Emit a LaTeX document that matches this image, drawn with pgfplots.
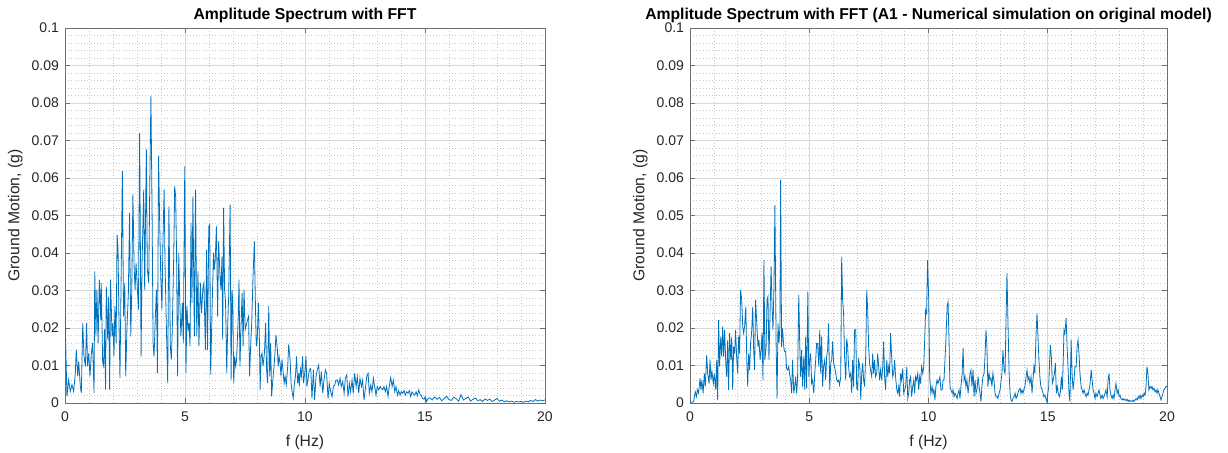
\documentclass[border=0pt]{standalone}
\usepackage{fontspec}
\setmainfont{Liberation Sans}
\usepackage{pgfplots}
\pgfplotsset{compat=1.18}
\definecolor{mblue}{HTML}{0072BD}
\definecolor{axgray}{HTML}{6E6E6E}
\definecolor{txtgray}{HTML}{262626}
\pgfplotsset{mystyle/.style={
  scale only axis, height=281.25pt,
  xmin=0, xmax=20, ymin=0, ymax=0.1,
  xtick={0,5,10,15,20}, xticklabels={0,5,10,15,20},
  ytick={0,0.01,0.02,0.03,0.04,0.05,0.06,0.07,0.08,0.09,0.1},
  yticklabels={0,0.01,0.02,0.03,0.04,0.05,0.06,0.07,0.08,0.09,0.1},
  minor xtick={1,2,3,4,6,7,8,9,11,12,13,14,16,17,18,19},
  minor ytick={0.002,0.004,0.006,0.008,0.012,0.014,0.016,0.018,0.022,0.024,0.026,0.028,0.032,0.034,0.036,0.038,0.042,0.044,0.046,0.048,0.052,0.054,0.056,0.058,0.062,0.064,0.066,0.068,0.072,0.074,0.076,0.078,0.082,0.084,0.086,0.088,0.092,0.094,0.096,0.098},
  grid=both,
  major grid style={draw=black!15, line width=0.5pt},
  minor grid style={draw=black!22, dotted, line width=0.45pt},
  minor tick length=0pt, major tick length=3.6pt, tick align=inside,
  axis line style={draw=axgray, line width=0.5pt},
  tick style={draw=axgray, line width=0.5pt},
  ticklabel style={font=\fontsize{10.5}{12}\selectfont, text=txtgray},
  xticklabel style={yshift=-3pt},
  yticklabel style={xshift=-1pt},
  label style={font=\fontsize{11.8}{14}\selectfont, text=txtgray},
  xlabel style={yshift=-3pt},
  every axis title shift=0pt,
  title style={font=\fontsize{11.8}{14}\selectfont\bfseries, text=black, at={(0.5,1)}, anchor=base, yshift=6pt},
  xlabel={f (Hz)}, ylabel={Ground Motion, (g)},
}}
\begin{document}
\begin{tikzpicture}
\useasboundingbox (0,0) rectangle (921pt,339.75pt);
\begin{axis}[mystyle, width=360pt, at={(48.75pt,37.5pt)}, anchor=south west,
  title={Amplitude Spectrum with FFT}]
\addplot[mblue, line width=0.6pt, no markers] table {
0.00 0.0240
0.08 0.0018
0.15 0.0062
0.22 0.0031
0.29 0.0049
0.36 0.0031
0.43 0.0080
0.47 0.0142
0.53 0.0071
0.57 0.0111
0.64 0.0044
0.68 0.0027
0.74 0.0213
0.79 0.0124
0.85 0.0098
0.90 0.0213
0.94 0.0098
0.99 0.0133
1.04 0.0071
1.10 0.0133
1.15 0.0160
1.21 0.0027
1.24 0.0351
1.29 0.0178
1.33 0.0302
1.38 0.0160
1.43 0.0329
1.49 0.0222
1.51 0.0320
1.57 0.0107
1.61 0.0098
1.65 0.0196
1.69 0.0036
1.72 0.0311
1.78 0.0169
1.82 0.0284
1.86 0.0036
1.90 0.0329
1.96 0.0178
2.00 0.0213
2.04 0.0124
2.08 0.0258
2.13 0.0160
2.17 0.0449
2.21 0.0409
2.25 0.0213
2.29 0.0067
2.33 0.0284
2.39 0.0618
2.44 0.0231
2.49 0.0320
2.53 0.0071
2.58 0.0196
2.64 0.0293
2.69 0.0507
2.74 0.0178
2.78 0.0293
2.83 0.0556
2.88 0.0364
2.92 0.0302
2.96 0.0373
3.01 0.0311
3.06 0.0249
3.11 0.0720
3.17 0.0124
3.21 0.0373
3.28 0.0569
3.32 0.0302
3.39 0.0676
3.43 0.0356
3.49 0.0320
3.53 0.0569
3.58 0.0818
3.63 0.0498
3.67 0.0160
3.71 0.0124
3.76 0.0222
3.81 0.0302
3.85 0.0080
3.90 0.0658
3.94 0.0498
3.99 0.0338
4.04 0.0249
4.08 0.0427
4.13 0.0569
4.17 0.0364
4.22 0.0213
4.28 0.0053
4.33 0.0524
4.39 0.0151
4.43 0.0116
4.47 0.0196
4.53 0.0391
4.57 0.0578
4.61 0.0551
4.65 0.0391
4.69 0.0071
4.74 0.0400
4.78 0.0276
4.83 0.0178
4.89 0.0267
4.93 0.0160
4.99 0.0631
5.04 0.0080
5.08 0.0258
5.13 0.0196
5.17 0.0213
5.21 0.0151
5.25 0.0480
5.29 0.0267
5.33 0.0551
5.39 0.0178
5.44 0.0569
5.49 0.0178
5.54 0.0351
5.58 0.0151
5.64 0.0320
5.69 0.0240
5.75 0.0311
5.79 0.0320
5.85 0.0142
5.90 0.0409
5.94 0.0142
5.99 0.0471
6.03 0.0476
6.07 0.0076
6.13 0.0258
6.19 0.0400
6.22 0.0356
6.26 0.0382
6.31 0.0471
6.36 0.0231
6.40 0.0431
6.46 0.0338
6.50 0.0302
6.54 0.0391
6.57 0.0169
6.61 0.0520
6.65 0.0302
6.69 0.0267
6.74 0.0080
6.78 0.0213
6.82 0.0284
6.88 0.0529
6.92 0.0062
6.96 0.0302
6.99 0.0267
7.03 0.0053
7.07 0.0124
7.11 0.0098
7.15 0.0116
7.21 0.0213
7.25 0.0329
7.29 0.0098
7.33 0.0196
7.38 0.0293
7.42 0.0151
7.46 0.0302
7.51 0.0196
7.57 0.0213
7.61 0.0222
7.65 0.0231
7.69 0.0071
7.74 0.0160
7.78 0.0213
7.83 0.0329
7.89 0.0431
7.93 0.0276
7.97 0.0151
8.01 0.0169
8.06 0.0267
8.10 0.0169
8.13 0.0036
8.17 0.0124
8.21 0.0133
8.25 0.0098
8.31 0.0133
8.36 0.0213
8.40 0.0089
8.44 0.0053
8.49 0.0258
8.53 0.0071
8.57 0.0160
8.61 0.0018
8.65 0.0053
8.71 0.0098
8.75 0.0133
8.79 0.0182
8.85 0.0142
8.88 0.0098
8.92 0.0124
8.96 0.0107
9.00 0.0071
9.04 0.0116
9.08 0.0089
9.13 0.0053
9.17 0.0071
9.22 0.0049
9.28 0.0098
9.32 0.0156
9.38 0.0116
9.42 0.0053
9.47 0.0027
9.51 0.0013
9.56 0.0053
9.60 0.0071
9.65 0.0124
9.69 0.0053
9.74 0.0080
9.76 0.0044
9.81 0.0089
9.85 0.0071
9.90 0.0124
9.94 0.0053
9.99 0.0080
10.04 0.0125
10.08 0.0044
10.13 0.0066
10.18 0.0088
10.24 0.0092
10.29 0.0012
10.35 0.0088
10.40 0.0008
10.46 0.0070
10.51 0.0088
10.57 0.0101
10.63 0.0044
10.68 0.0084
10.74 0.0026
10.79 0.0061
10.85 0.0088
10.90 0.0079
10.96 0.0012
11.01 0.0052
11.07 0.0030
11.13 0.0017
11.18 0.0044
11.24 0.0048
11.29 0.0061
11.35 0.0061
11.40 0.0048
11.46 0.0066
11.51 0.0044
11.57 0.0057
11.63 0.0026
11.68 0.0066
11.74 0.0075
11.79 0.0017
11.85 0.0052
11.90 0.0030
11.96 0.0061
12.01 0.0026
12.07 0.0079
12.13 0.0044
12.18 0.0070
12.24 0.0026
12.29 0.0066
12.35 0.0044
12.40 0.0061
12.46 0.0008
12.51 0.0035
12.57 0.0070
12.63 0.0079
12.68 0.0026
12.74 0.0048
12.79 0.0030
12.85 0.0066
12.90 0.0044
12.96 0.0021
13.01 0.0044
13.07 0.0035
13.13 0.0044
13.18 0.0039
13.24 0.0035
13.29 0.0044
13.35 0.0030
13.40 0.0044
13.46 0.0017
13.51 0.0044
13.57 0.0068
13.63 0.0044
13.68 0.0061
13.74 0.0030
13.79 0.0044
13.85 0.0021
13.90 0.0033
13.96 0.0021
14.01 0.0030
14.07 0.0026
14.13 0.0033
14.18 0.0021
14.24 0.0030
14.29 0.0026
14.35 0.0033
14.40 0.0017
14.46 0.0030
14.51 0.0024
14.57 0.0021
14.63 0.0030
14.68 0.0019
14.74 0.0035
14.79 0.0024
14.85 0.0019
14.90 0.0012
14.96 0.0010
15.01 0.0017
15.07 0.0004
15.13 0.0012
15.20 0.0014
15.30 0.0008
15.40 0.0016
15.50 0.0010
15.60 0.0015
15.70 0.0006
15.80 0.0012
15.90 0.0018
16.00 0.0009
16.10 0.0007
16.20 0.0016
16.30 0.0011
16.40 0.0005
16.50 0.0022
16.60 0.0008
16.70 0.0012
16.80 0.0016
16.90 0.0005
17.00 0.0010
17.10 0.0013
17.20 0.0006
17.30 0.0009
17.40 0.0004
17.50 0.0011
17.60 0.0007
17.70 0.0010
17.80 0.0004
17.90 0.0008
18.00 0.0012
18.10 0.0005
18.20 0.0008
18.30 0.0003
18.40 0.0006
18.50 0.0003
18.60 0.0005
18.70 0.0002
18.80 0.0004
18.90 0.0003
19.00 0.0004
19.10 0.0002
19.20 0.0005
19.30 0.0003
19.40 0.0007
19.50 0.0004
19.60 0.0009
19.70 0.0005
19.80 0.0008
19.90 0.0006
20.00 0.0008
};
\end{axis}
\begin{axis}[mystyle, width=357.75pt, at={(517.5pt,37.5pt)}, anchor=south west,
  title={Amplitude Spectrum with FFT (A1 - Numerical simulation on original model)}]
\addplot[mblue, line width=0.6pt, no markers] table {
0.00 0.0002
0.10 0.0002
0.15 0.0003
0.22 0.0030
0.27 0.0017
0.31 0.0035
0.36 0.0026
0.42 0.0066
0.46 0.0035
0.50 0.0061
0.55 0.0026
0.60 0.0079
0.64 0.0044
0.70 0.0128
0.74 0.0079
0.80 0.0052
0.84 0.0115
0.88 0.0061
0.92 0.0084
0.98 0.0052
1.02 0.0079
1.08 0.0035
1.12 0.0115
1.16 0.0008
1.20 0.0221
1.24 0.0097
1.29 0.0177
1.33 0.0124
1.37 0.0204
1.41 0.0124
1.45 0.0195
1.50 0.0106
1.54 0.0070
1.58 0.0168
1.62 0.0035
1.66 0.0186
1.71 0.0115
1.75 0.0177
1.79 0.0035
1.83 0.0150
1.87 0.0132
1.91 0.0195
1.96 0.0115
2.00 0.0079
2.04 0.0177
2.08 0.0132
2.12 0.0301
2.17 0.0275
2.21 0.0204
2.25 0.0186
2.29 0.0204
2.34 0.0257
2.38 0.0115
2.42 0.0044
2.46 0.0132
2.50 0.0088
2.54 0.0159
2.59 0.0195
2.63 0.0257
2.67 0.0141
2.71 0.0088
2.75 0.0275
2.80 0.0212
2.85 0.0150
2.89 0.0168
2.94 0.0115
2.98 0.0141
3.02 0.0186
3.06 0.0061
3.10 0.0381
3.14 0.0115
3.19 0.0150
3.23 0.0275
3.27 0.0284
3.31 0.0115
3.35 0.0221
3.40 0.0364
3.44 0.0257
3.48 0.0195
3.52 0.0310
3.56 0.0528
3.61 0.0159
3.65 0.0012
3.69 0.0212
3.73 0.0159
3.77 0.0204
3.80 0.0595
3.84 0.0150
3.88 0.0199
3.93 0.0150
3.97 0.0137
4.01 0.0137
4.05 0.0092
4.10 0.0088
4.14 0.0097
4.18 0.0075
4.22 0.0061
4.26 0.0026
4.30 0.0115
4.35 0.0026
4.39 0.0044
4.43 0.0070
4.47 0.0026
4.51 0.0061
4.56 0.0288
4.60 0.0159
4.64 0.0070
4.68 0.0141
4.72 0.0044
4.77 0.0124
4.81 0.0035
4.85 0.0177
4.89 0.0039
4.94 0.0297
4.98 0.0070
5.02 0.0115
5.06 0.0132
5.10 0.0052
5.14 0.0061
5.19 0.0026
5.23 0.0079
5.27 0.0115
5.31 0.0159
5.35 0.0159
5.40 0.0097
5.44 0.0195
5.48 0.0079
5.52 0.0177
5.56 0.0044
5.60 0.0097
5.65 0.0115
5.69 0.0061
5.73 0.0124
5.77 0.0141
5.81 0.0212
5.86 0.0035
5.90 0.0106
5.94 0.0115
5.98 0.0164
6.02 0.0106
6.06 0.0097
6.11 0.0079
6.15 0.0061
6.19 0.0057
6.23 0.0061
6.27 0.0048
6.32 0.0070
6.36 0.0390
6.40 0.0275
6.44 0.0239
6.48 0.0124
6.53 0.0061
6.57 0.0172
6.61 0.0150
6.65 0.0097
6.69 0.0070
6.74 0.0079
6.78 0.0026
6.82 0.0115
6.86 0.0044
6.90 0.0195
6.95 0.0195
6.99 0.0039
7.03 0.0035
7.07 0.0115
7.12 0.0097
7.16 0.0008
7.20 0.0079
7.24 0.0106
7.28 0.0061
7.32 0.0044
7.37 0.0132
7.41 0.0301
7.45 0.0248
7.49 0.0150
7.53 0.0106
7.57 0.0088
7.62 0.0070
7.66 0.0132
7.70 0.0079
7.74 0.0115
7.78 0.0070
7.83 0.0079
7.87 0.0132
7.91 0.0097
7.95 0.0061
7.99 0.0088
8.04 0.0061
8.08 0.0097
8.12 0.0164
8.16 0.0070
8.20 0.0035
8.25 0.0115
8.29 0.0070
8.33 0.0097
8.37 0.0079
8.41 0.0186
8.46 0.0115
8.50 0.0070
8.54 0.0079
8.58 0.0115
8.62 0.0070
8.67 0.0035
8.71 0.0026
8.75 0.0044
8.79 0.0017
8.83 0.0079
8.87 0.0061
8.92 0.0092
8.96 0.0026
9.00 0.0035
9.04 0.0044
9.09 0.0097
9.13 0.0012
9.17 0.0026
9.21 0.0061
9.25 0.0070
9.29 0.0017
9.34 0.0044
9.38 0.0061
9.42 0.0026
9.46 0.0070
9.50 0.0061
9.55 0.0079
9.59 0.0035
9.63 0.0070
9.67 0.0052
9.71 0.0097
9.76 0.0079
9.80 0.0097
9.84 0.0168
9.88 0.0248
9.92 0.0239
9.96 0.0381
10.01 0.0275
10.05 0.0070
10.10 0.0026
10.15 0.0044
10.19 0.0026
10.23 0.0035
10.27 0.0008
10.31 0.0044
10.36 0.0061
10.40 0.0052
10.44 0.0061
10.48 0.0070
10.52 0.0035
10.57 0.0035
10.61 0.0061
10.65 0.0061
10.69 0.0115
10.73 0.0168
10.78 0.0257
10.82 0.0270
10.86 0.0168
10.90 0.0044
10.94 0.0035
10.99 0.0026
11.03 0.0035
11.07 0.0017
11.11 0.0026
11.15 0.0021
11.20 0.0012
11.24 0.0026
11.28 0.0035
11.32 0.0012
11.36 0.0044
11.41 0.0079
11.45 0.0146
11.49 0.0061
11.53 0.0070
11.57 0.0044
11.61 0.0061
11.66 0.0026
11.70 0.0052
11.74 0.0079
11.78 0.0088
11.82 0.0044
11.87 0.0088
11.91 0.0017
11.95 0.0061
11.99 0.0026
12.03 0.0035
12.08 0.0070
12.12 0.0044
12.16 0.0026
12.20 0.0004
12.24 0.0044
12.28 0.0070
12.33 0.0079
12.37 0.0124
12.41 0.0195
12.45 0.0150
12.49 0.0044
12.54 0.0079
12.58 0.0061
12.62 0.0066
12.66 0.0044
12.70 0.0079
12.75 0.0057
12.79 0.0026
12.83 0.0017
12.87 0.0017
12.91 0.0012
12.96 0.0026
13.00 0.0035
13.04 0.0057
13.08 0.0079
13.12 0.0141
13.17 0.0088
13.21 0.0079
13.25 0.0221
13.29 0.0346
13.33 0.0221
13.38 0.0079
13.42 0.0026
13.46 0.0008
13.50 0.0004
13.54 0.0012
13.59 0.0017
13.63 0.0026
13.67 0.0012
13.71 0.0017
13.75 0.0026
13.79 0.0035
13.84 0.0039
13.88 0.0026
13.92 0.0035
13.96 0.0026
14.00 0.0035
14.04 0.0044
14.09 0.0070
14.13 0.0088
14.17 0.0061
14.21 0.0070
14.25 0.0052
14.30 0.0070
14.34 0.0026
14.38 0.0061
14.42 0.0097
14.46 0.0079
14.51 0.0186
14.55 0.0239
14.59 0.0177
14.63 0.0115
14.67 0.0070
14.71 0.0044
14.76 0.0035
14.80 0.0026
14.84 0.0017
14.88 0.0021
14.92 0.0012
14.96 0.0004
15.04 0.0044
15.08 0.0115
15.11 0.0155
15.15 0.0124
15.19 0.0052
15.23 0.0061
15.28 0.0079
15.32 0.0106
15.36 0.0026
15.40 0.0044
15.44 0.0026
15.49 0.0017
15.53 0.0030
15.57 0.0070
15.61 0.0035
15.65 0.0115
15.68 0.0195
15.72 0.0186
15.77 0.0226
15.81 0.0150
15.85 0.0097
15.89 0.0026
15.93 0.0004
15.98 0.0168
16.02 0.0079
16.06 0.0035
16.10 0.0061
16.14 0.0097
16.19 0.0097
16.23 0.0150
16.27 0.0168
16.31 0.0132
16.35 0.0079
16.40 0.0044
16.44 0.0035
16.48 0.0026
16.52 0.0035
16.56 0.0026
16.61 0.0017
16.65 0.0026
16.69 0.0021
16.73 0.0035
16.77 0.0048
16.82 0.0088
16.86 0.0061
16.90 0.0035
16.94 0.0026
16.98 0.0012
17.02 0.0026
17.07 0.0017
17.11 0.0026
17.15 0.0035
17.19 0.0021
17.23 0.0012
17.28 0.0021
17.32 0.0012
17.36 0.0017
17.40 0.0026
17.44 0.0035
17.49 0.0017
17.53 0.0061
17.57 0.0079
17.61 0.0035
17.65 0.0021
17.70 0.0012
17.74 0.0021
17.78 0.0012
17.82 0.0035
17.86 0.0052
17.91 0.0026
17.95 0.0035
17.99 0.0017
18.03 0.0021
18.07 0.0012
18.12 0.0008
18.16 0.0012
18.20 0.0008
18.24 0.0010
18.28 0.0006
18.33 0.0010
18.37 0.0004
18.41 0.0008
18.45 0.0004
18.49 0.0006
18.54 0.0004
18.58 0.0008
18.62 0.0004
18.66 0.0008
18.70 0.0012
18.75 0.0008
18.79 0.0017
18.83 0.0012
18.87 0.0021
18.91 0.0012
18.96 0.0021
19.00 0.0017
19.04 0.0026
19.08 0.0021
19.12 0.0044
19.16 0.0097
19.20 0.0079
19.24 0.0035
19.29 0.0044
19.33 0.0039
19.37 0.0044
19.41 0.0035
19.45 0.0039
19.50 0.0030
19.54 0.0035
19.58 0.0026
19.62 0.0035
19.66 0.0026
19.71 0.0017
19.75 0.0008
19.79 0.0017
19.83 0.0026
19.87 0.0035
19.92 0.0039
19.96 0.0044
20.00 0.0044
};
\end{axis}
\end{tikzpicture}
\end{document}
